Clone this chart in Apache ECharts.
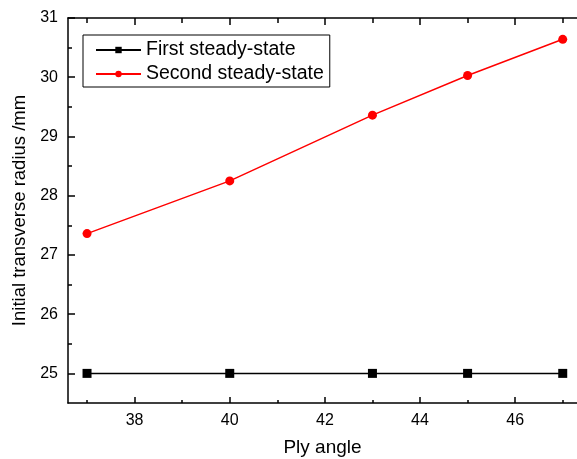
<!DOCTYPE html>
<html>
<head>
<meta charset="utf-8">
<script src="https://cdn.jsdelivr.net/npm/echarts@6/dist/echarts.min.js"></script>
<style>
html,body{margin:0;padding:0;background:#fff;}
#chart{width:577px;height:459px;}
</style>
</head>
<body>
<div id="chart"></div>
<script>
// ply angle (x) and the two radius series
var plyAngle = [37, 40, 43, 45, 47];
var firstSteady = [25, 25, 25, 25, 25];
var secondSteady = [27.36, 28.25, 29.36, 30.03, 30.64];

var xMajor = [38, 40, 42, 44, 46];
var xMinor = [37, 39, 41, 43, 45, 47];
var yMajor = [25, 26, 27, 28, 29, 30, 31];
var yMinor = [25.5, 26.5, 27.5, 28.5, 29.5, 30.5];

var FONT = 'Liberation Sans';
var lineStyle = {color: '#000', width: 1.5};

function pairs(xs, ys) {
    var out = [];
    for (var i = 0; i < xs.length; i++) out.push([xs[i], ys[i]]);
    return out;
}

// extra axes that only carry ticks (minor ticks / top mirror)
function tickAxis(pos, values, len, showLine) {
    return {
        type: 'value', position: pos, min: 36.6, max: 47.3,
        axisLine: {show: showLine, onZero: false, lineStyle: lineStyle},
        axisTick: {show: true, inside: true, length: len, customValues: values, lineStyle: lineStyle},
        axisLabel: {show: false},
        splitLine: {show: false}
    };
}
function yTickAxis(pos, values, len, showLine) {
    return {
        type: 'value', position: pos, min: 24.5, max: 31,
        axisLine: {show: showLine, onZero: false, lineStyle: lineStyle},
        axisTick: {show: true, inside: true, length: len, customValues: values, lineStyle: lineStyle},
        axisLabel: {show: false},
        splitLine: {show: false}
    };
}

var option = {
    animation: false,
    backgroundColor: '#fff',
    grid: {left: 68, top: 18, right: 0, bottom: 56, containLabel: false, outerBoundsMode: 'none'},
    legend: {
        orient: 'vertical',
        left: 83, top: 35,
        padding: [5, 6, 3, 12],
        itemGap: 4,
        itemWidth: 45, itemHeight: 8,
        borderColor: '#000', borderWidth: 1,
        textStyle: {fontFamily: FONT, fontSize: 19.5, color: '#000'},
        data: ['First steady-state', 'Second steady-state']
    },
    xAxis: [
        {
            type: 'value', position: 'bottom', min: 36.6, max: 47.3,
            name: 'Ply angle', nameLocation: 'middle', nameGap: 35,
            nameTextStyle: {fontFamily: FONT, fontSize: 19, color: '#000'},
            axisLine: {show: true, onZero: false, lineStyle: lineStyle},
            axisTick: {show: true, inside: true, length: 6, customValues: xMajor, lineStyle: lineStyle},
            axisLabel: {customValues: xMajor, fontFamily: FONT, fontSize: 16, color: '#000', margin: 10},
            splitLine: {show: false}
        },
        tickAxis('bottom', xMinor, 3, false),
        tickAxis('top', xMajor, 7, true),
        tickAxis('top', xMinor, 5, false)
    ],
    yAxis: [
        {
            type: 'value', position: 'left', min: 24.5, max: 31,
            name: 'Initial transverse radius /mm', nameLocation: 'middle', nameGap: 38,
            nameTextStyle: {fontFamily: FONT, fontSize: 18.5, color: '#000'},
            axisLine: {show: true, onZero: false, lineStyle: lineStyle},
            axisTick: {show: true, inside: true, length: 7, customValues: yMajor, lineStyle: lineStyle},
            axisLabel: {customValues: yMajor, fontFamily: FONT, fontSize: 16, color: '#000', margin: 10},
            splitLine: {show: false}
        },
        yTickAxis('left', yMinor, 4, false)
    ],
    series: [
        {
            name: 'First steady-state', type: 'line',
            xAxisIndex: 0, yAxisIndex: 0,
            data: pairs(plyAngle, firstSteady),
            symbol: 'rect', symbolSize: 9,
            itemStyle: {color: '#000'},
            lineStyle: {color: '#000', width: 1.5}
        },
        {
            name: 'Second steady-state', type: 'line',
            xAxisIndex: 0, yAxisIndex: 0,
            data: pairs(plyAngle, secondSteady),
            symbol: 'circle', symbolSize: 9,
            itemStyle: {color: '#ff0000'},
            lineStyle: {color: '#ff0000', width: 1.5}
        }
    ]
};

var myChart = echarts.init(document.getElementById('chart'));
myChart.setOption(option);
</script>
</body>
</html>
